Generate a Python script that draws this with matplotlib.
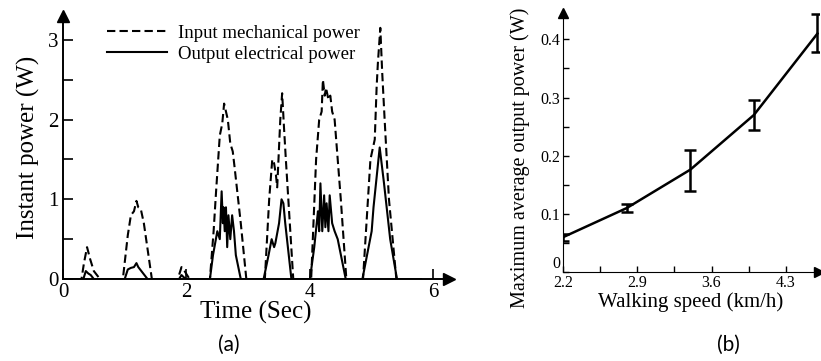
import matplotlib
matplotlib.use("Agg")
import matplotlib.pyplot as plt
from matplotlib.ticker import FixedLocator

plt.rcParams['font.family'] = ['Liberation Serif', 'DejaVu Serif']

# (a) instant power over time
t_in = [0.0, 0.30, 0.34, 0.39, 0.44, 0.50, 0.60, 0.97, 1.05, 1.10, 1.15, 1.19, 1.22, 1.26, 1.31,
        1.44, 1.86, 1.92, 1.97, 2.05, 2.38, 2.44, 2.48, 2.54, 2.58, 2.61, 2.64, 2.67, 2.71, 2.75,
        2.78, 2.88, 2.97, 3.27, 3.34, 3.39, 3.42, 3.45, 3.47, 3.52, 3.55, 3.58, 3.61, 3.73, 4.02,
        4.10, 4.15, 4.19, 4.21, 4.24, 4.26, 4.30, 4.33, 4.36, 4.40, 4.50, 4.59, 4.86, 4.94, 4.98,
        5.05, 5.08, 5.10, 5.14, 5.17, 5.21, 5.28, 5.40, 5.80]
p_in = [0.0, 0.0, 0.2, 0.40, 0.25, 0.10, 0.0, 0.0, 0.55, 0.80, 0.85, 0.98, 0.90, 0.88, 0.70,
        0.0, 0.0, 0.15, 0.10, 0.0, 0.0, 0.60, 1.10, 1.80, 1.95, 2.20, 2.10, 2.00, 1.70, 1.60,
        1.40, 0.70, 0.0, 0.0, 1.00, 1.50, 1.45, 1.30, 1.15, 2.00, 2.33, 1.90, 1.50, 0.0, 0.0,
        1.50, 2.00, 2.10, 2.50, 2.30, 2.40, 2.25, 2.30, 2.10, 2.00, 1.00, 0.0, 0.0, 1.00, 1.50,
        1.75, 2.40, 2.70, 3.15, 2.60, 2.00, 1.00, 0.0, 0.0]

t_out = [0.0, 0.33, 0.37, 0.41, 0.45, 0.50, 1.00, 1.05, 1.10, 1.15, 1.19, 1.22, 1.25, 1.32,
         1.37, 1.88, 1.92, 1.96, 2.00, 2.38, 2.43, 2.50, 2.54, 2.57, 2.59, 2.60, 2.62, 2.64, 2.66,
         2.68, 2.71, 2.74, 2.77, 2.80, 2.88, 3.25, 3.33, 3.38, 3.42, 3.44, 3.50, 3.54, 3.57, 3.60,
         3.70, 4.00, 4.07, 4.11, 4.13, 4.15, 4.17, 4.20, 4.23, 4.25, 4.27, 4.30, 4.32, 4.36, 4.40,
         4.45, 4.58, 4.85, 4.95, 5.00, 5.03, 5.07, 5.13, 5.20, 5.30, 5.41, 5.80]
p_out = [0.0, 0.0, 0.10, 0.07, 0.05, 0.0, 0.0, 0.12, 0.14, 0.15, 0.20, 0.15, 0.12, 0.05,
         0.0, 0.0, 0.05, 0.02, 0.0, 0.0, 0.30, 0.60, 0.50, 1.10, 0.70, 0.90, 0.60, 0.90, 0.40,
         0.80, 0.50, 0.80, 0.60, 0.30, 0.0, 0.0, 0.30, 0.50, 0.40, 0.45, 0.70, 1.00, 0.95, 0.70,
         0.0, 0.0, 0.40, 0.70, 0.85, 0.60, 1.20, 0.60, 1.05, 0.65, 0.95, 0.60, 1.05, 0.70, 0.60,
         0.50, 0.0, 0.0, 0.40, 0.60, 0.90, 1.20, 1.65, 1.20, 0.50, 0.0, 0.0]

# (b) max average output power vs walking speed
speed = [2.2, 2.8, 3.4, 4.0, 4.6]
power = [0.060, 0.110, 0.176, 0.270, 0.410]
err_lo = [0.006, 0.006, 0.036, 0.025, 0.032]
err_hi = [0.006, 0.007, 0.034, 0.025, 0.033]
speed_ticks = [2.2, 2.9, 3.6, 4.3]
power_ticks = [0, 0.1, 0.2, 0.3, 0.4]
power_labels = ['0', '0.1', '0.2', '0.3', '0.4']

fig = plt.figure(figsize=(8.21, 3.61), dpi=100)

# ---- panel (a)
ax1 = fig.add_axes([0.0767, 0.227, 0.470, 0.729])
ax1.plot(t_in, p_in, 'k--', lw=1.5, dashes=(4, 2), label='Input mechanical power')
ax1.plot(t_out, p_out, 'k-', lw=1.5, label='Output electrical power')
ax1.set_xlim(0, 6.25)
ax1.set_ylim(0, 3.3)
ax1.spines['top'].set_visible(False)
ax1.spines['right'].set_visible(False)
ax1.spines['left'].set_linewidth(1.4)
ax1.spines['bottom'].set_linewidth(1.4)
ax1.plot(1, 0, '>k', ms=8, transform=ax1.get_yaxis_transform(), clip_on=False)
ax1.plot(0, 1, '^k', ms=8, transform=ax1.transAxes, clip_on=False)
ax1.xaxis.set_major_locator(FixedLocator([0, 2, 4, 6]))
ax1.yaxis.set_major_locator(FixedLocator([0, 1, 2, 3]))
ax1.yaxis.set_minor_locator(FixedLocator([0.5, 1.5, 2.5]))
ax1.tick_params(direction='in', length=7, width=1.2, labelsize=15, pad=3)
ax1.tick_params(which='minor', direction='in', length=7, width=1.2)
ax1.set_xlabel('Time (Sec)', fontsize=18, labelpad=-1)
ax1.set_ylabel('Instant power (W)', fontsize=18, labelpad=6)
ax1.legend(loc='upper left', bbox_to_anchor=(0.07, 1.03), frameon=False, fontsize=13.5,
           handlelength=3.2, handletextpad=0.6, labelspacing=0.2)

# ---- panel (b)
ax2 = fig.add_axes([0.686, 0.2465, 0.311, 0.717])
ax2.errorbar(speed, power, yerr=[err_lo, err_hi], fmt='k-', lw=1.8, elinewidth=1.8,
             capsize=4, capthick=1.8)
ax2.set_xlim(2.2, 4.61)
ax2.set_ylim(0, 0.445)
ax2.spines['top'].set_visible(False)
ax2.spines['right'].set_visible(False)
ax2.plot(1, 0, '>k', ms=7, transform=ax2.transAxes, clip_on=False)
ax2.plot(0, 1, '^k', ms=7, transform=ax2.transAxes, clip_on=False)
ax2.xaxis.set_major_locator(FixedLocator(speed_ticks))
ax2.xaxis.set_minor_locator(FixedLocator([2.55, 3.25, 3.95]))
ax2.set_yticks(power_ticks)
ax2.set_yticklabels(power_labels)
ax2.yaxis.set_minor_locator(FixedLocator([0.05, 0.15, 0.25, 0.35]))
ax2.tick_params(direction='in', length=4, width=1, labelsize=11.5, pad=2)
ax2.tick_params(which='minor', direction='in', length=4, width=1)
ax2.get_yticklabels()[0].set_va('bottom')
ax2.set_xlabel('Walking speed (km/h)', fontsize=15, labelpad=1)
ax2.set_ylabel('Maximum average output power (W)', fontsize=14.5)
ax2.yaxis.set_label_coords(-0.13, 0.44)

fig.text(0.279, 0.045, '(a)', fontsize=15, family='Lato', ha='center', va='center')
fig.text(0.887, 0.045, '(b)', fontsize=15, family='Lato', ha='center', va='center')

fig.savefig('out.png', dpi=100)
